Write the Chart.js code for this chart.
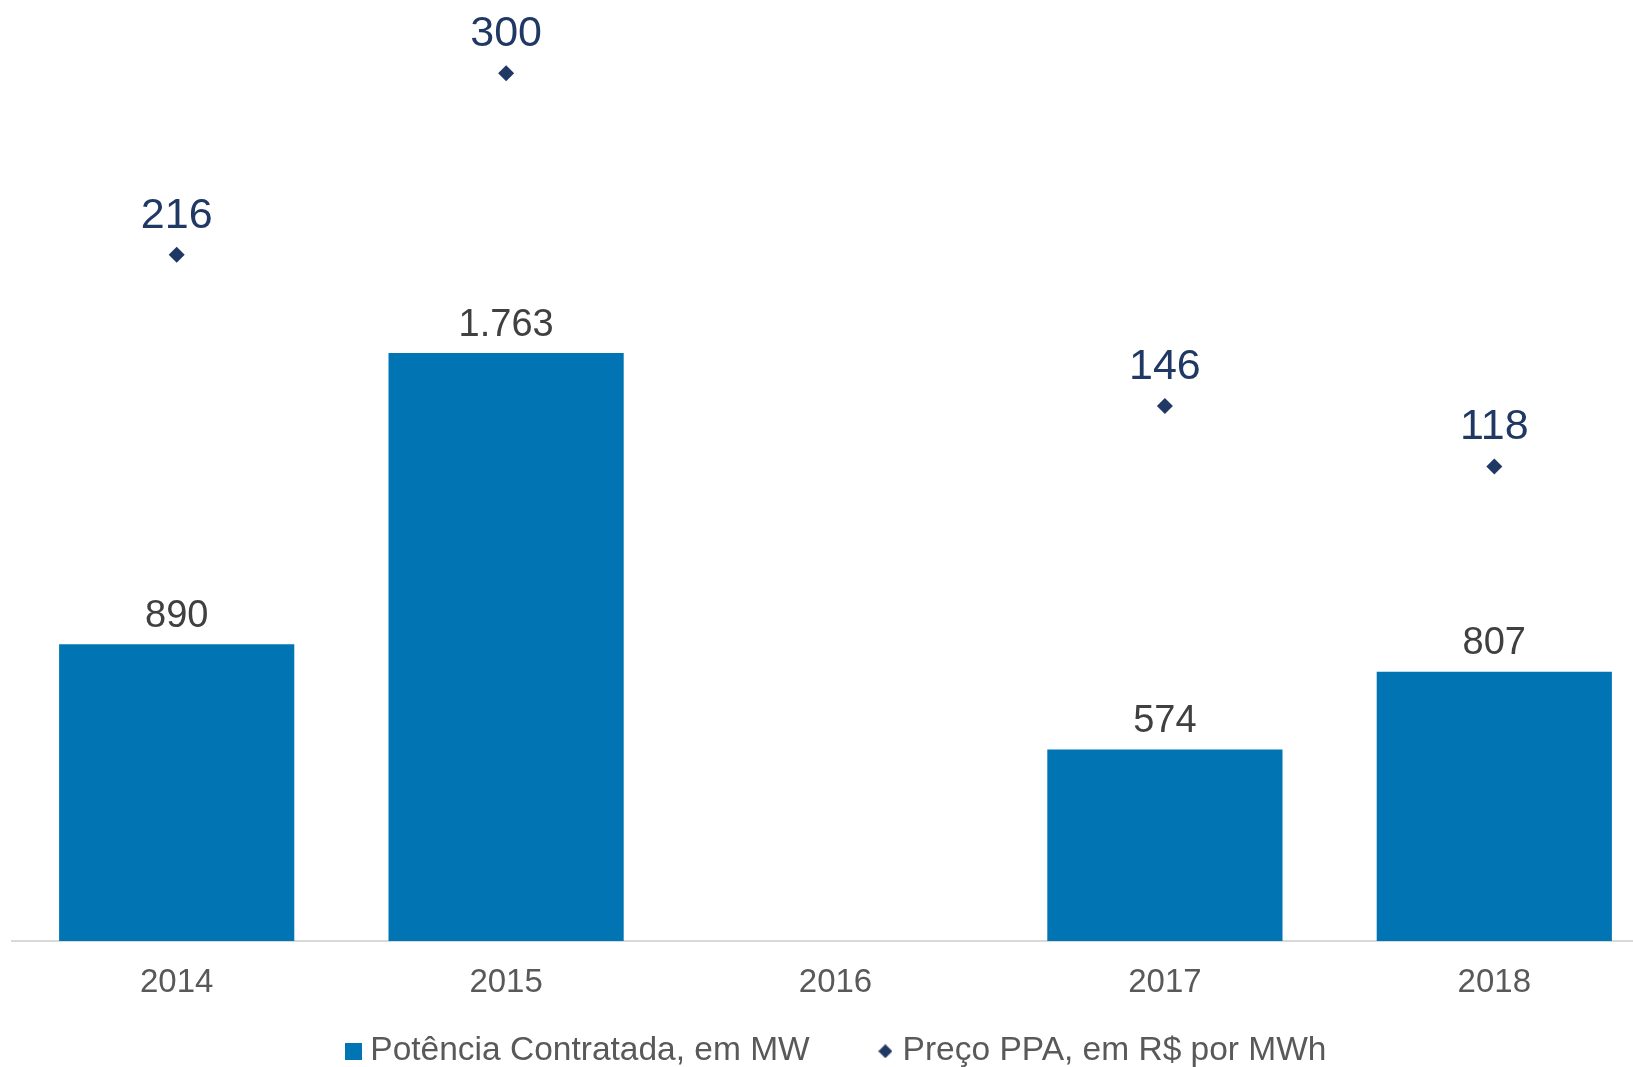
<html><head><meta charset="utf-8">
<script src="https://cdn.jsdelivr.net/npm/chart.js@4.4.0/dist/chart.umd.min.js"></script>
<style>
 html, body { margin:0; padding:0; background:#fff; overflow:hidden; }
 #wrap { position:relative; width:1667px; height:1078px; }
</style>
</head>
<body>
<div id="wrap"><canvas id="myChart"></canvas></div>
<script>
var anos = ['2014', '2015', '2016', '2017', '2018'];
var potencia = [890, 1763, null, 574, 807];
var preco = [216, 300, null, 146, 118];
var nomePotencia = 'Potência Contratada, em MW';
var nomePreco = 'Preço PPA, em R$ por MWh';

var azul = '#0174B3';
var marinho = '#203864';

function fmt(v) {
  return String(v).replace(/\B(?=(\d{3})+(?!\d))/g, '.');
}

// little canvases for the legend symbols
function boxIcon() {
  var c = document.createElement('canvas'); c.width = 17; c.height = 17;
  var g = c.getContext('2d'); g.fillStyle = azul; g.fillRect(0, 0, 17, 17);
  return c;
}
function diamondIcon() {
  var c = document.createElement('canvas'); c.width = 14; c.height = 14;
  var g = c.getContext('2d'); g.fillStyle = marinho;
  g.beginPath(); g.moveTo(7, 0); g.lineTo(14, 7); g.lineTo(7, 14); g.lineTo(0, 7); g.closePath(); g.fill();
  return c;
}

var rotulos = {
  id: 'rotulos',
  afterDatasetsDraw: function(chart) {
    var ctx = chart.ctx;
    ctx.save();
    ctx.textAlign = 'center';
    ctx.textBaseline = 'middle';
    chart.data.datasets.forEach(function(ds, i) {
      var meta = chart.getDatasetMeta(i);
      meta.data.forEach(function(el, j) {
        var v = ds.data[j];
        if (v === null || v === undefined) return;
        if (ds.type === 'bar') {
          ctx.fillStyle = '#404040';
          ctx.font = '38px "Liberation Sans", Arial, sans-serif';
          ctx.fillText(fmt(v), el.x, el.y - 28);
        } else {
          ctx.fillStyle = marinho;
          ctx.font = '43px "Liberation Sans", Arial, sans-serif';
          ctx.fillText(fmt(v), el.x, el.y - 39);
        }
      });
    });
    ctx.restore();
  }
};

var ctx = document.getElementById('myChart');
var myChart = new Chart(ctx, {
  data: {
    labels: anos,
    datasets: [{
      type: 'line',
      label: nomePreco,
      data: preco,
      yAxisID: 'yPreco',
      showLine: false,
      pointStyle: 'rectRot',
      pointRadius: 8,
      pointHoverRadius: 8,
      backgroundColor: marinho,
      borderColor: marinho,
      borderWidth: 0,
      order: 0
    }, {
      type: 'bar',
      label: nomePotencia,
      data: potencia,
      yAxisID: 'y',
      backgroundColor: azul,
      barPercentage: 1,
      categoryPercentage: 0.714,
      order: 1
    }]
  },
  options: {
    responsive: true,
    maintainAspectRatio: false,
    animation: false,
    layout: { padding: { left: 12, right: 0, top: 10, bottom: 0 } },
    plugins: {
      tooltip: { enabled: false },
      legend: {
        position: 'bottom',
        reverse: true,
        labels: {
          usePointStyle: true,
          pointStyleWidth: 1,
          color: '#595959',
          font: { family: '"Liberation Sans", Arial, sans-serif', size: 33.5 },
          padding: 10,
          generateLabels: function(chart) {
            var items = Chart.defaults.plugins.legend.labels.generateLabels(chart);
            items.forEach(function(it) {
              if (it.datasetIndex === 1) {
                it.pointStyle = boxIcon();
                it.text = it.text + '       ';
              } else {
                it.pointStyle = diamondIcon();
              }
            });
            return items;
          }
        }
      }
    },
    scales: {
      x: {
        grid: { display: false, drawTicks: false },
        border: { display: true, color: '#D9D9D9', width: 2 },
        ticks: {
          color: '#595959',
          padding: 22,
          font: { family: '"Liberation Sans", Arial, sans-serif', size: 33 }
        }
      },
      y: {
        display: false,
        min: 0,
        max: 2792
      },
      yPreco: {
        display: false,
        position: 'right',
        min: -101.4,
        max: 329.2
      }
    }
  },
  plugins: [rotulos]
});
</script>
</body></html>
